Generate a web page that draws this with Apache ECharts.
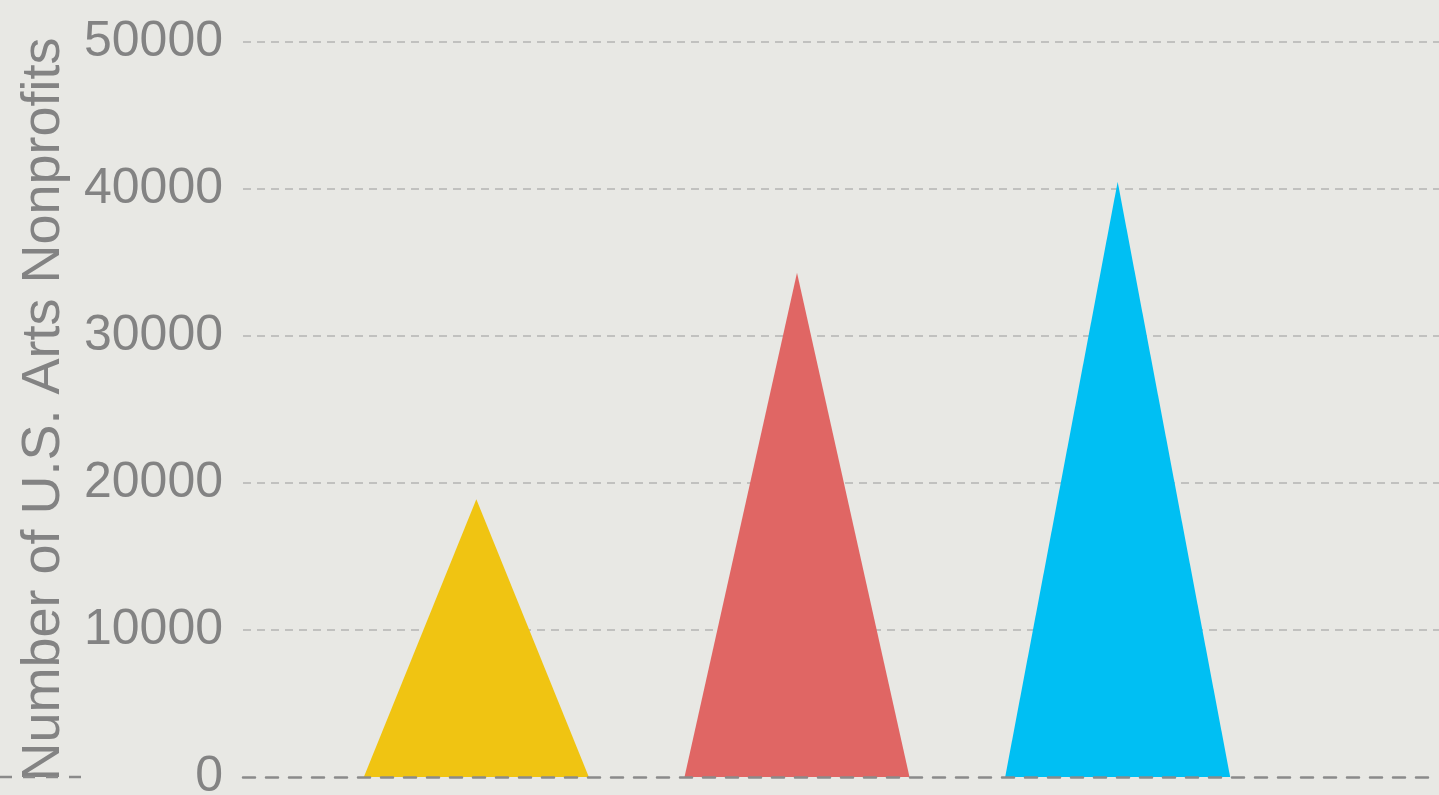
<!DOCTYPE html>
<html>
<head>
<meta charset="utf-8">
<script src="https://cdn.jsdelivr.net/npm/echarts@6/dist/echarts.min.js"></script>
<style>
html,body{margin:0;padding:0;background:#e8e8e4;}
#c{width:1439px;height:795px;}
</style>
</head>
<body>
<div id="c"></div>
<script>
const categories = ['A', 'B', 'C'];
const nonprofitCounts = [18900, 34300, 40500];
const barColors = ['#f0c412', '#e06664', '#00bff3'];
const yTicks = [0, 10000, 20000, 30000, 40000, 50000];
const yTitle = 'Number of U.S. Arts Nonprofits';

const chart = echarts.init(document.getElementById('c'));
const font = '"Liberation Sans", Arial, Helvetica, sans-serif';
chart.setOption({
  backgroundColor: '#e8e8e4',
  animation: false,
  grid: [
    {left: 243, right: 0, top: 42, bottom: 18, containLabel: false, outerBoundsMode: 'none'},
    {left: 316, right: 161, top: 42, bottom: 18, containLabel: false, outerBoundsMode: 'none'}
  ],
  xAxis: [
    {gridIndex: 0, type: 'category', data: categories, z: 10,
      axisLine: {show: true, lineStyle: {color: '#8a8a8a', width: 2.5, type: [12, 11]}},
      axisTick: {show: false}, axisLabel: {show: false}, splitLine: {show: false}},
    {gridIndex: 1, type: 'category', data: categories,
      axisLine: {show: false}, axisTick: {show: false}, axisLabel: {show: false}}
  ],
  yAxis: [
    {gridIndex: 0, type: 'value', min: yTicks[0], max: yTicks[yTicks.length - 1], interval: 10000,
      name: yTitle, nameLocation: 'middle', nameRotate: 90, nameGap: 172,
      nameTextStyle: {fontSize: 54, color: '#838383', fontFamily: font},
      axisLine: {show: false}, axisTick: {show: false},
      axisLabel: {fontSize: 50, color: '#838383', fontFamily: font, margin: 20,
        formatter: v => yTicks.includes(v) ? String(v) : ''},
      splitLine: {show: true, lineStyle: {color: '#b4b4b2', width: 1.5, type: [8, 6]},
        showMinLine: false}},
    {gridIndex: 1, type: 'value', min: yTicks[0], max: yTicks[yTicks.length - 1], show: false}
  ],
  graphic: [
    {type: 'line', shape: {x1: 0, y1: 777, x2: 92, y2: 777}, z: 10,
      style: {stroke: '#8a8a8a', lineWidth: 2.5, lineDash: [12, 11]}}
  ],
  series: [{
    type: 'pictorialBar',
    xAxisIndex: 1, yAxisIndex: 1,
    symbol: 'triangle',
    symbolSize: [225, '100%'],
    z: 3,
    data: nonprofitCounts.map((v, i) => ({value: v, itemStyle: {color: barColors[i]}}))
  }]
});
</script>
</body>
</html>
